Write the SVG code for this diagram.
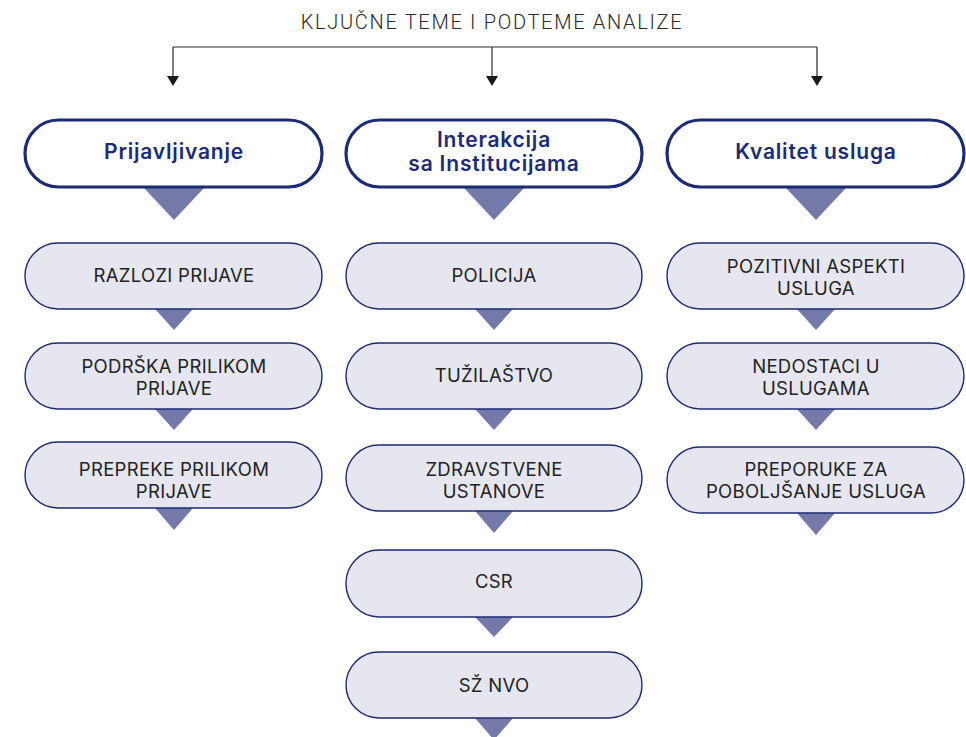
<svg xmlns="http://www.w3.org/2000/svg" width="966" height="737" viewBox="0 0 966 737">
<defs>
<style>
.title{font-family:Roboto,"Liberation Sans",sans-serif;font-weight:300;font-size:20px;letter-spacing:1.7px;fill:#2a2a2a;text-anchor:middle}
.hdr rect{fill:#ffffff;stroke:#1b2b74;stroke-width:3.2}
.hdr text{font-family:Inter,Roboto,"Liberation Sans",sans-serif;font-weight:600;font-size:21px;letter-spacing:0.8px;fill:#1b2b74;text-anchor:middle}
.sub rect{fill:#e6e6f0;stroke:#1b2b74;stroke-width:1.4}
.sub text{font-family:Inter,Roboto,"Liberation Sans",sans-serif;font-weight:400;font-size:18.5px;letter-spacing:0.3px;fill:#222222;text-anchor:middle}
.tri{fill:#7579aa}
.line{stroke:#2a2a2a;stroke-width:1.2;fill:none}
.ah{fill:#1a1a1a}
</style>
</defs>
<text class="title" x="492" y="28.5">KLJUČNE TEME I PODTEME ANALIZE</text>
<g id="connectors">
<path class="line" d="M173 47 H817 M173 47 V77 M492 47 V77 M817 47 V77"/>
<path class="ah" d="M167 76 H179 L173 86 Z M486 76 H498 L492 86 Z M811 76 H823 L817 86 Z"/>
<path class="tri" d="M144 188 H204 L174 220 Z M464 188 H524 L494 220 Z M786 188 H846 L816 220 Z"/>
<path class="tri" d="M155 309 H193 L174 330 Z M155 409 H193 L174 430 Z M155 508 H193 L174 530 Z"/>
<path class="tri" d="M475 309 H513 L494 330 Z M475 409 H513 L494 430 Z M475 511 H513 L494 533 Z M475 617 H513 L494 637 Z M475 718 H513 L494 740 Z"/>
<path class="tri" d="M797 309 H835 L816 330 Z M797 409 H835 L816 430 Z M797 513 H835 L816 535 Z"/>
</g>
<g id="h1" class="hdr"><rect x="25" y="120" width="297" height="67" rx="33.5"/><text x="174" y="159">Prijavljivanje</text></g>
<g id="h2" class="hdr"><rect x="346" y="120" width="296" height="67" rx="33.5"/><text x="494" y="147">Interakcija</text><text x="494" y="171">sa Institucijama</text></g>
<g id="h3" class="hdr"><rect x="667" y="120" width="297" height="67" rx="33.5"/><text x="816" y="159">Kvalitet usluga</text></g>
<g id="l1" class="sub"><rect x="25" y="243" width="297" height="66" rx="33"/><text x="174" y="282">RAZLOZI PRIJAVE</text></g>
<g id="l2" class="sub"><rect x="25" y="343" width="297" height="66" rx="33"/><text x="174" y="373">PODRŠKA PRILIKOM</text><text x="174" y="395">PRIJAVE</text></g>
<g id="l3" class="sub"><rect x="25" y="442" width="297" height="66" rx="33"/><text x="174" y="476">PREPREKE PRILIKOM</text><text x="174" y="498">PRIJAVE</text></g>
<g id="m1" class="sub"><rect x="346" y="243" width="296" height="66" rx="33"/><text x="494" y="282">POLICIJA</text></g>
<g id="m2" class="sub"><rect x="346" y="343" width="296" height="66" rx="33"/><text x="494" y="382">TUŽILAŠTVO</text></g>
<g id="m3" class="sub"><rect x="346" y="445" width="296" height="66" rx="33"/><text x="494" y="476">ZDRAVSTVENE</text><text x="494" y="498">USTANOVE</text></g>
<g id="m4" class="sub"><rect x="346" y="550" width="296" height="67" rx="33"/><text x="494" y="588">CSR</text></g>
<g id="m5" class="sub"><rect x="346" y="652" width="296" height="66" rx="33"/><text x="494" y="692">SŽ NVO</text></g>
<g id="r1" class="sub"><rect x="667" y="243" width="297" height="66" rx="33"/><text x="816" y="273">POZITIVNI ASPEKTI</text><text x="816" y="295">USLUGA</text></g>
<g id="r2" class="sub"><rect x="667" y="343" width="297" height="66" rx="33"/><text x="816" y="373">NEDOSTACI U</text><text x="816" y="395">USLUGAMA</text></g>
<g id="r3" class="sub"><rect x="667" y="447" width="297" height="66" rx="33"/><text x="816" y="476">PREPORUKE ZA</text><text x="816" y="498">POBOLJŠANJE USLUGA</text></g>
</svg>
